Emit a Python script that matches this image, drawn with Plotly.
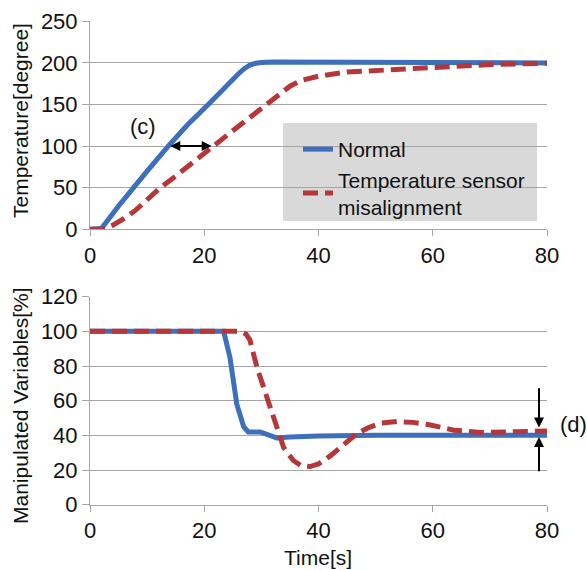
import plotly.graph_objects as go

# ---- data ----
t_temp_normal = [0, 1.5, 2, 5, 7.5, 10, 13.7, 17, 20.7, 24, 26, 27, 28, 29, 30, 32, 35, 40, 50, 60, 70, 80]
temp_normal = [0, 0, 1, 28, 50, 70, 100, 125, 150, 174, 187, 193, 197.5, 199.5, 200.5, 201, 201, 200, 200, 200, 200, 200]

t_temp_mis = [0, 2, 4, 6, 8, 10, 12.3, 15, 18, 21.6, 24, 27, 30, 33, 35, 37, 40, 45, 50, 60, 70, 80]
temp_mis = [0, 0, 5, 13, 23, 35, 50, 64, 81, 100, 113, 129, 145, 162, 172, 179, 184, 189, 191, 195, 198, 199.5]

t_mv_normal = [0, 23.4, 24.5, 25.7, 26.9, 27.7, 29.8, 31, 32.7, 35, 40, 50, 60, 70, 80]
mv_normal = [100, 100, 85, 58, 45, 42, 42, 40.5, 38.5, 39, 39.6, 40, 40, 40, 40]

t_mv_mis = [0, 26.3, 27.3, 28, 29.2, 30.9, 32.7, 33.9, 35.6, 37, 38.5, 40, 42, 44.5, 46.7, 48.8, 50.8, 53.7, 56.5, 59.6, 63.7, 68.4, 80]
mv_mis = [100, 100, 98.5, 95, 79.5, 62, 45, 33, 25.5, 22.5, 22, 23.5, 28, 35, 41, 44.5, 47, 48, 47.5, 46, 43, 41.7, 42.5]

x_ticks = [0, 20, 40, 60, 80]
temp_ticks = [0, 50, 100, 150, 200, 250]
mv_ticks = [0, 20, 40, 60, 80, 100, 120]

BLUE = "#3d6fba"
RED = "#b6373a"
GRID = "#a6a6a6"
FONT = "Liberation Sans, Arial, sans-serif"
TXT = "#111111"
W, H = 587, 570
LW = 5
DASH = "15px,7px"

fig = go.Figure()
fig.add_trace(go.Scatter(x=t_temp_normal, y=temp_normal, mode="lines", name="Normal",
                         line=dict(color=BLUE, width=LW),
                         xaxis="x", yaxis="y"))
fig.add_trace(go.Scatter(x=t_temp_mis, y=temp_mis, mode="lines",
                         name="Temperature sensor<br>misalignment",
                         line=dict(color=RED, width=LW, dash=DASH),
                         xaxis="x", yaxis="y"))
fig.add_trace(go.Scatter(x=t_mv_normal, y=mv_normal, mode="lines", showlegend=False,
                         line=dict(color=BLUE, width=LW),
                         xaxis="x2", yaxis="y2"))
fig.add_trace(go.Scatter(x=t_mv_mis, y=mv_mis, mode="lines", showlegend=False,
                         line=dict(color=RED, width=LW, dash=DASH),
                         xaxis="x2", yaxis="y2"))

def px_x(p):
    return p / W

def px_y(p):
    return 1 - p / H

xcommon = dict(range=[0, 80], tickvals=x_ticks, showgrid=False, showline=True,
               linecolor=GRID, linewidth=1, ticks="outside", ticklen=6, tickcolor=GRID,
               tickfont=dict(size=22, color=TXT, family=FONT), zeroline=False,
               domain=[px_x(90), px_x(547)], automargin=False)
ycommon = dict(showgrid=True, gridcolor=GRID, gridwidth=1, showline=True, linecolor=GRID,
               linewidth=1, ticks="outside", ticklen=7, tickcolor=GRID,
               tickfont=dict(size=22, color=TXT, family=FONT), zeroline=False,
               automargin=False)

fig.update_layout(
    width=W, height=H,
    margin=dict(l=0, r=0, t=0, b=0),
    paper_bgcolor="white", plot_bgcolor="white",
    font=dict(family=FONT, size=21, color=TXT),
    xaxis=dict(**xcommon, anchor="y"),
    yaxis=dict(**ycommon, range=[0, 250], tickvals=temp_ticks, anchor="x",
               domain=[px_y(229.3), px_y(21.3)]),
    xaxis2=dict(**xcommon, anchor="y2"),
    yaxis2=dict(**ycommon, range=[0, 120], tickvals=mv_ticks, anchor="x2",
                domain=[px_y(504.7), px_y(296.7)]),
    legend=dict(x=px_x(298), y=px_y(129), xanchor="left", yanchor="top",
                bgcolor="rgba(0,0,0,0)", font=dict(size=21, family=FONT, color=TXT),
                tracegroupgap=0, itemwidth=30),
    showlegend=True,
)

# axis titles
fig.add_annotation(x=px_x(20), y=px_y(121), xref="paper", yref="paper",
                   text="Temperature[degree]", textangle=-90, showarrow=False,
                   xanchor="center", yanchor="middle", font=dict(size=21, family=FONT, color=TXT))
fig.add_annotation(x=px_x(20), y=px_y(406), xref="paper", yref="paper",
                   text="Manipulated Variables[%]", textangle=-90, showarrow=False,
                   xanchor="center", yanchor="middle", font=dict(size=21, family=FONT, color=TXT))
fig.add_annotation(x=px_x(318), y=0, xref="paper", yref="paper",
                   text="Time[s]", showarrow=False, borderpad=0,
                   xanchor="center", yanchor="bottom", font=dict(size=21, family=FONT, color=TXT))

# legend background box
fig.add_shape(type="rect", xref="paper", yref="paper",
              x0=px_x(283), x1=px_x(537), y0=px_y(221), y1=px_y(123),
              fillcolor="#d9d9d9", line=dict(width=0), layer="below")

# annotations
fig.add_annotation(x=9.3, y=123, xref="x", yref="y", text="(c)", showarrow=False,
                   font=dict(size=22, family=FONT, color=TXT))
fig.add_annotation(x=21.3, y=100, ax=13.8, ay=100, xref="x", yref="y", axref="x", ayref="y",
                   text="", showarrow=True, arrowhead=2, arrowside="end+start",
                   arrowsize=1, arrowwidth=2, arrowcolor="black")
fig.add_annotation(x=78.6, y=44.5, ax=78.6, ay=68, xref="x2", yref="y2", axref="x2", ayref="y2",
                   text="", showarrow=True, arrowhead=2, arrowsize=1, arrowwidth=2,
                   arrowcolor="black")
fig.add_annotation(x=78.6, y=39, ax=78.6, ay=18.5, xref="x2", yref="y2", axref="x2", ayref="y2",
                   text="", showarrow=True, arrowhead=2, arrowsize=1, arrowwidth=2,
                   arrowcolor="black")
fig.add_annotation(x=px_x(558), y=px_y(424), xref="paper", yref="paper", text="(d)",
                   xanchor="left", yanchor="middle",
                   showarrow=False, font=dict(size=22, family=FONT, color=TXT))

fig.write_html("out.html")
